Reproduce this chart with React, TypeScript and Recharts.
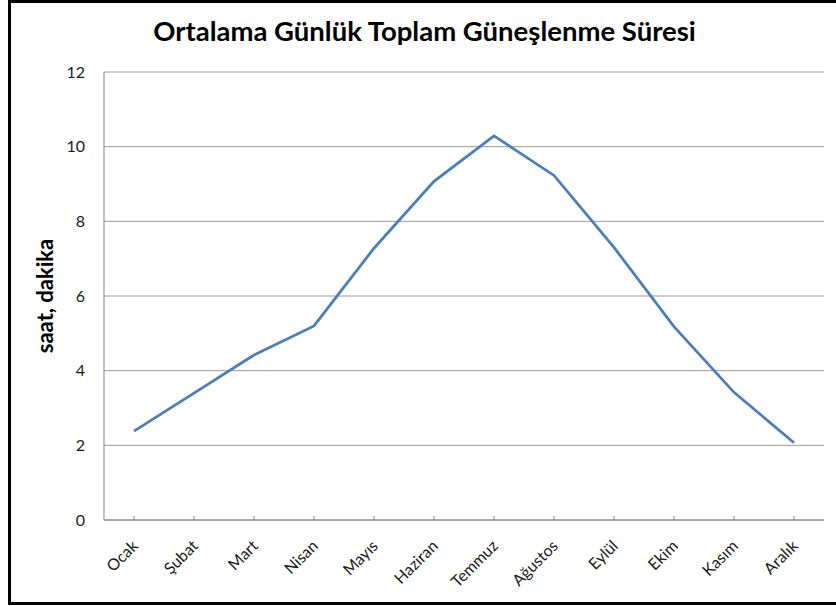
import { LineChart, Line, XAxis, YAxis, CartesianGrid } from 'recharts';

const months = ['Ocak', 'Şubat', 'Mart', 'Nisan', 'Mayıs', 'Haziran', 'Temmuz', 'Ağustos', 'Eylül', 'Ekim', 'Kasım', 'Aralık'];
const sunshineHours = [2.38, 3.4, 4.42, 5.2, 7.28, 9.07, 10.29, 9.23, 7.3, 5.18, 3.42, 2.07];
const yTicks = [0, 2, 4, 6, 8, 10, 12];

const data = months.map((month, i) => ({ month, hours: sunshineHours[i] }));

const FONT = 'Lato, "Open Sans", sans-serif';

const MonthTick = (props: any) => {
    const { x, y, payload } = props;
    return (
        <g>
            <line x1={x} y1={y - 4} x2={x} y2={y} stroke="#888" strokeWidth={1} />
            <text
                x={x + 5}
                y={y + 27}
                transform={`rotate(-45, ${x + 5}, ${y + 27})`}
                textAnchor="end"
                fontSize={16}
                fontFamily={FONT}
                fill="#1a1a1a"
            >
                {payload.value}
            </text>
        </g>
    );
};

const YTitle = () => (
    <text
        x={53}
        y={296}
        transform="rotate(-90, 53, 296)"
        textAnchor="middle"
        fontSize={22}
        fontWeight="bold"
        fontFamily={FONT}
        fill="#000"
    >
        saat, dakika
    </text>
);

export default function App() {
    return (
        <div style={{ position: 'relative', width: 836, height: 606, overflow: 'hidden', background: '#fff' }}>
            <style>{'body{margin:0;overflow:hidden;}'}</style>
            <div
                style={{
                    position: 'absolute',
                    left: 8,
                    top: 0,
                    width: 840,
                    height: 605,
                    border: '3px solid #000',
                    boxSizing: 'border-box',
                }}
            />
            <div
                style={{
                    position: 'absolute',
                    left: 0,
                    top: 15,
                    width: 849,
                    textAlign: 'center',
                    fontFamily: FONT,
                    fontWeight: 'bold',
                    fontSize: 27.5,
                    lineHeight: '32px',
                    color: '#000',
                }}
            >
                Ortalama Günlük Toplam Güneşlenme Süresi
            </div>
            <div style={{ position: 'absolute', left: 0, top: 0 }}>
                <LineChart width={836} height={606} data={data} margin={{ top: 72, right: 12, bottom: 56, left: 44 }}>
                    <CartesianGrid vertical={false} stroke="#9a9a9a" strokeWidth={1} />
                    <XAxis
                        dataKey="month"
                        height={30}
                        padding={{ left: 30, right: 30 }}
                        stroke="#888"
                        tickLine={false}
                        tickSize={0}
                        tickMargin={0}
                        interval={0}
                        tick={<MonthTick />}
                    />
                    <YAxis
                        width={60}
                        domain={[0, 12]}
                        ticks={yTicks}
                        interval={0}
                        stroke="#888"
                        tickLine={false}
                        tickSize={6}
                        tickMargin={13}
                        tick={{ fontSize: 16, fontFamily: FONT, fill: '#1a1a1a' }}
                        label={<YTitle />}
                    />
                    <Line
                        type="linear"
                        dataKey="hours"
                        stroke="#4a7ebb"
                        strokeWidth={2.75}
                        dot={false}
                        activeDot={false}
                        isAnimationActive={false}
                    />
                </LineChart>
            </div>
        </div>
    );
}
